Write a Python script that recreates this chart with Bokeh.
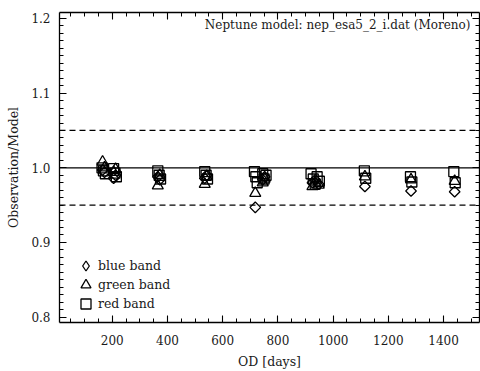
import math
from bokeh.plotting import figure
from bokeh.models import (LinearAxis, FixedTicker, Span, Label, Legend, LegendItem,
                          ColumnDataSource, Range1d)
from bokeh.embed import file_html
from bokeh.resources import INLINE

# ---- data ----
blue_days = [165, 172, 205, 212, 365, 372, 535, 542, 718, 745, 752, 925, 935, 948, 1115, 1282, 1440]
blue_vals = [0.997, 0.994, 0.986, 0.990, 0.988, 0.984, 0.986, 0.990, 0.947, 0.984, 0.988,
             0.980, 0.984, 0.978, 0.975, 0.969, 0.968]

green_days = [165, 172, 205, 212, 365, 372, 535, 542, 718, 745, 752, 925, 935, 948, 1115, 1282, 1440]
green_vals = [1.008, 1.000, 0.994, 0.998, 0.976, 0.990, 0.978, 0.988, 0.966, 0.980, 0.985,
              0.975, 0.980, 0.977, 0.988, 0.984, 0.982]

red_days = [163, 168, 175, 205, 210, 215, 365, 370, 375, 535, 540, 545, 715, 720, 725,
            745, 750, 757, 920, 928, 935, 942, 950, 1113, 1118, 1280, 1285, 1437, 1442]
red_vals = [1.000, 0.996, 0.992, 0.999, 0.993, 0.988, 0.996, 0.990, 0.985, 0.995, 0.990, 0.985,
            0.995, 0.988, 0.980, 0.992, 0.985, 0.990, 0.992, 0.985, 0.978, 0.988, 0.982,
            0.996, 0.986, 0.988, 0.981, 0.995, 0.980]

band_names = ["blue band", "green band", "red band"]

x_ticks = [200, 400, 600, 800, 1000, 1200, 1400]
x_minor = list(range(0, 1551, 50))
y_ticks = [0.8, 0.9, 1.0, 1.1, 1.2]
y_minor = [round(0.79 + 0.01 * i, 2) for i in range(43)]

ref_level = 1.0
band_levels = [0.95, 1.05]
title_text = "Neptune model: nep_esa5_2_i.dat (Moreno)"
x_label = "OD [days]"
y_label = "Observation/Model"

FONT = "DejaVu Serif"
TXT = "#1a1a1a"

p = figure(width=480, height=371, output_backend="svg", toolbar_location=None,
           x_range=Range1d(9, 1530), y_range=Range1d(0.7928, 1.208),
           min_border_left=59, min_border_right=1, min_border_top=12, min_border_bottom=48,
           x_axis_location=None, y_axis_location=None)
p.grid.visible = False
p.outline_line_color = None
p.background_fill_color = "white"
p.border_fill_color = "white"

def style_axis(ax, ticks, minor, labels=True):
    ax.ticker = FixedTicker(ticks=ticks, minor_ticks=minor)
    ax.axis_line_color = "black"
    ax.axis_line_width = 1.3
    ax.major_tick_line_color = "black"
    ax.minor_tick_line_color = "black"
    ax.major_tick_line_width = 1.1
    ax.minor_tick_line_width = 1.0
    ax.major_tick_in = 7
    ax.major_tick_out = 0
    ax.minor_tick_in = 4
    ax.minor_tick_out = 0
    ax.major_label_text_font = FONT
    ax.axis_label_text_font = FONT
    ax.axis_label_text_font_style = "normal"
    ax.major_label_text_color = TXT
    ax.axis_label_text_color = TXT
    if labels:
        ax.major_label_text_font_size = "12px"
        ax.axis_label_text_font_size = "12.5px"
    else:
        ax.major_label_text_font_size = "1px"
        ax.major_label_text_color = None
        ax.major_label_standoff = 0

xb = LinearAxis(axis_label=x_label)
style_axis(xb, x_ticks, x_minor)
xb.major_label_standoff = 12
xb.axis_label_standoff = 6
p.add_layout(xb, "below")

yl = LinearAxis(axis_label=y_label)
style_axis(yl, y_ticks, y_minor)
yl.major_label_standoff = 9
yl.axis_label_standoff = 7
yl.major_label_overrides = {0.8: "0.8", 0.9: "0.9", 1.0: "1.0", 1.1: "1.1", 1.2: "1.2"}
p.add_layout(yl, "left")

xt = LinearAxis()
style_axis(xt, x_ticks, x_minor, labels=False)
p.add_layout(xt, "above")

yr = LinearAxis()
style_axis(yr, y_ticks, y_minor, labels=False)
p.add_layout(yr, "right")

p.add_layout(Span(location=ref_level, dimension="width", line_color="black", line_width=1.3))
for lv in band_levels:
    p.add_layout(Span(location=lv, dimension="width", line_color="black", line_width=1.2,
                      line_dash="6 4"))

blue_src = ColumnDataSource(dict(x=blue_days, y=blue_vals))
green_src = ColumnDataSource(dict(x=green_days, y=green_vals))
red_src = ColumnDataSource(dict(x=red_days, y=red_vals))

mk = dict(fill_color="white", fill_alpha=0.0, line_color="black", line_width=1.3)
r_red = p.scatter("x", "y", source=red_src, marker="square", size=10, **mk)
r_green = p.scatter("x", "y", source=green_src, marker="triangle", size=11, **mk)
r_blue = p.scatter("x", "y", source=blue_src, marker="square", angle=math.pi / 4, size=7.5, **mk)

# hidden diamond proxy for the legend (legend ignores marker angle)
r_blue_leg = p.scatter("x", "y", source=blue_src, marker="diamond", size=12, visible=False, **mk)

leg_renderers = [r_blue_leg, r_green, r_red]
leg_offsets = [44, 25, 6]
for name, rend, off in zip(band_names, leg_renderers, leg_offsets):
    lg = Legend(items=[LegendItem(label=name, renderers=[rend])],
                location=(14, off), margin=0, padding=0, spacing=0,
                glyph_width=25, glyph_height=25, label_height=16, label_standoff=-8,
                label_text_font=FONT, label_text_font_size="12.5px", label_text_color=TXT,
                border_line_alpha=0, background_fill_alpha=0)
    p.add_layout(lg)

p.add_layout(Label(x=1497, y=1.182, text=title_text, text_align="right",
                   text_font=FONT, text_font_size="12px", text_color=TXT))

open("out.html", "w").write(file_html(p, INLINE))
